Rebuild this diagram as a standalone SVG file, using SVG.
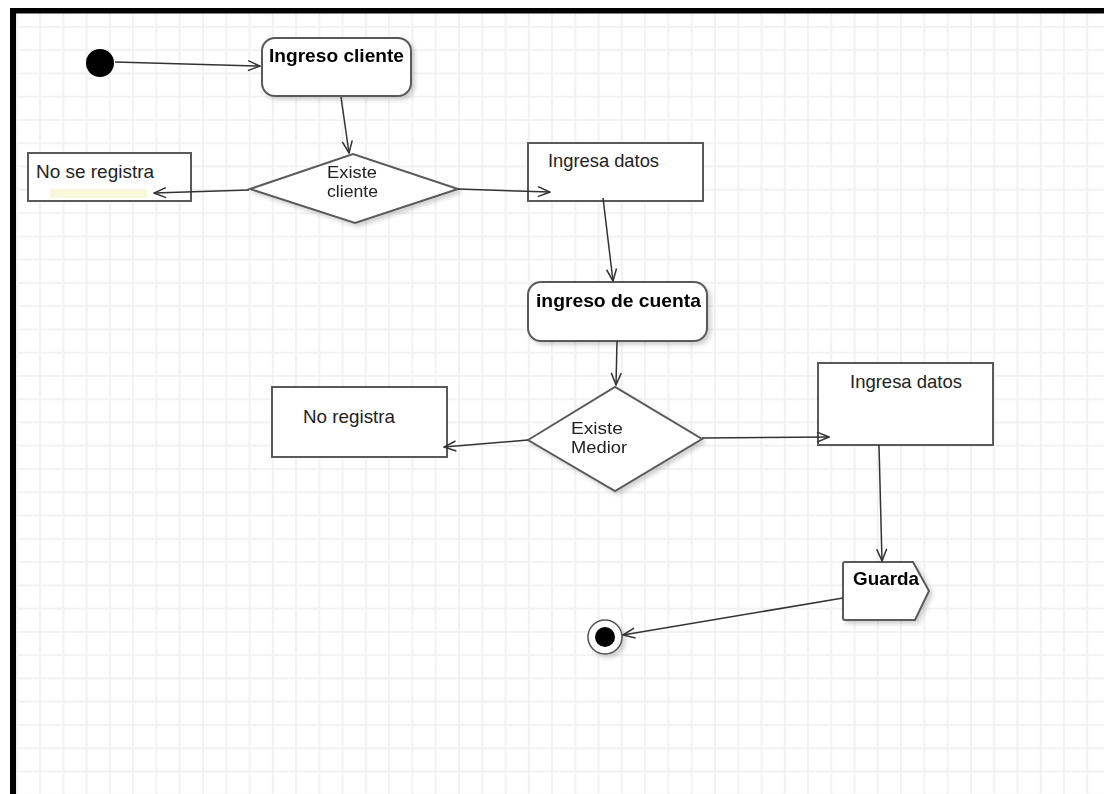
<svg xmlns="http://www.w3.org/2000/svg" width="1104" height="794" viewBox="0 0 1104 794">
  <defs>
    <!-- light drawing-canvas grid -->
    <pattern id="grid" patternUnits="userSpaceOnUse" x="15.9" y="2.7" width="23.27" height="23.27">
      <rect x="0" y="0" width="1.8" height="23.27" fill="#f1f1f1"/>
      <rect x="0" y="0" width="23.27" height="1.8" fill="#f1f1f1"/>
    </pattern>
    <filter id="shadow" x="-10%" y="-10%" width="130%" height="140%">
      <feDropShadow dx="3" dy="3" stdDeviation="2" flood-color="#000" flood-opacity="0.18"/>
    </filter>
    <!-- open V arrowhead -->
    <marker id="arrow" viewBox="0 0 14 12" refX="13" refY="6" markerWidth="14" markerHeight="12" markerUnits="userSpaceOnUse" orient="auto">
      <path d="M1,1 L13,6 L1,11" fill="none" stroke="#333" stroke-width="1.5"/>
    </marker>
    <style>
      .node { fill: #ffffff; stroke: #5a5a5a; stroke-width: 2; }
      .label { font-family: "Liberation Sans", Arial, sans-serif; font-size: 18.5px; fill: #222; }
      .dlabel { font-family: "Liberation Sans", Arial, sans-serif; font-size: 16.5px; fill: #222; }
      .title { font-family: "Liberation Sans", Arial, sans-serif; font-size: 19px; font-weight: bold; fill: #000; }
      .edge { fill: none; stroke: #333; stroke-width: 1.5; marker-end: url(#arrow); }
    </style>
  </defs>

  <!-- canvas -->
  <rect x="0" y="0" width="1104" height="794" fill="#ffffff"/>
  <rect x="16" y="13" width="1088" height="781" fill="url(#grid)"/>
  <rect x="10" y="8" width="1094" height="5.5" fill="#000"/>
  <rect x="10" y="8" width="6" height="786" fill="#000"/>

  <!-- start node -->
  <g id="start">
    <circle cx="100" cy="63" r="14" fill="#000"/>
  </g>

  <g id="ingreso-cliente" filter="url(#shadow)">
    <rect class="node" x="262" y="38" width="149" height="58" rx="13" ry="13"/>
    <text class="title" x="269" y="62" textLength="135" lengthAdjust="spacingAndGlyphs">Ingreso cliente</text>
  </g>

  <g id="existe-cliente" filter="url(#shadow)">
    <polygon class="node" points="250,189 353,154 458,189 355,223"/>
    <text class="dlabel" x="327" y="178" textLength="50" lengthAdjust="spacingAndGlyphs">Existe</text>
    <text class="dlabel" x="327" y="197" textLength="51" lengthAdjust="spacingAndGlyphs">cliente</text>
  </g>

  <g id="no-se-registra">
    <rect class="node" x="28" y="153" width="163" height="48"/>
    <rect x="50" y="189" width="97" height="9" fill="#f8f8dc"/>
    <text class="label" x="36" y="178" textLength="118" lengthAdjust="spacingAndGlyphs">No se registra</text>
  </g>

  <g id="ingresa-datos-1">
    <rect class="node" x="528" y="143" width="175" height="58"/>
    <text class="label" x="548" y="167" textLength="111" lengthAdjust="spacingAndGlyphs">Ingresa datos</text>
  </g>

  <g id="ingreso-cuenta" filter="url(#shadow)">
    <rect class="node" x="528" y="282" width="179" height="59" rx="13" ry="13"/>
    <text class="title" x="536" y="307" textLength="165" lengthAdjust="spacingAndGlyphs">ingreso de cuenta</text>
  </g>

  <g id="existe-medior" filter="url(#shadow)">
    <polygon class="node" points="528,440 615,387 702,439 615,491"/>
    <text class="dlabel" x="571" y="434" textLength="52" lengthAdjust="spacingAndGlyphs">Existe</text>
    <text class="dlabel" x="571" y="453" textLength="56" lengthAdjust="spacingAndGlyphs">Medior</text>
  </g>

  <g id="no-registra">
    <rect class="node" x="272" y="387" width="175" height="70"/>
    <text class="label" x="303" y="423" textLength="92" lengthAdjust="spacingAndGlyphs">No registra</text>
  </g>

  <g id="ingresa-datos-2">
    <rect class="node" x="818" y="363" width="175" height="82"/>
    <text class="label" x="850" y="388" textLength="112" lengthAdjust="spacingAndGlyphs">Ingresa datos</text>
  </g>

  <g id="guarda" filter="url(#shadow)">
    <path class="node" d="M845,562 L913,562 L929,591 L915,620 L845,620 Q843,620 843,618 L843,564 Q843,562 845,562 Z"/>
    <text class="title" x="853" y="585" textLength="66" lengthAdjust="spacingAndGlyphs">Guarda</text>
  </g>

  <!-- final node -->
  <g id="end" filter="url(#shadow)">
    <circle cx="605" cy="637" r="17" fill="#fff" stroke="#555" stroke-width="1.5"/>
    <circle cx="605" cy="637" r="10" fill="#000"/>
  </g>

  <!-- connectors -->
  <g id="connectors">
    <line class="edge" x1="115" y1="62" x2="260" y2="66"/>
    <line class="edge" x1="341" y1="97" x2="349" y2="153"/>
    <line class="edge" x1="249" y1="190" x2="154" y2="193"/>
    <line class="edge" x1="458" y1="189" x2="550" y2="192"/>
    <line class="edge" x1="603" y1="198" x2="613" y2="281"/>
    <line class="edge" x1="617" y1="341" x2="616" y2="385"/>
    <line class="edge" x1="528" y1="440" x2="444" y2="447"/>
    <line class="edge" x1="702" y1="438" x2="829" y2="437"/>
    <line class="edge" x1="879" y1="445" x2="882" y2="561"/>
    <line class="edge" x1="843" y1="598" x2="623" y2="635"/>
  </g>
</svg>
